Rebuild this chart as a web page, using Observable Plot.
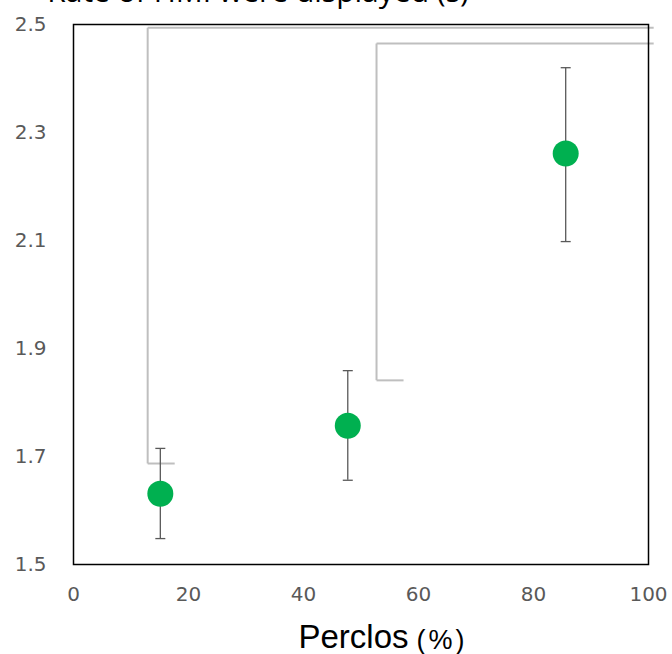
<!DOCTYPE html>
<html>
<head>
<meta charset="utf-8">
<script src="https://cdn.jsdelivr.net/npm/d3@7"></script>
<script src="https://cdn.jsdelivr.net/npm/@observablehq/plot@0.6"></script>
<style>
  html, body { margin: 0; padding: 0; background: #fff; overflow: hidden; }
  #chart svg { display: block; overflow: hidden; }
</style>
</head>
<body>
<div id="chart"></div>
<script>
// Data
const perclos = [15.1, 47.7, 85.6];
const meanValue = [1.631, 1.757, 2.261];
const errLow = [1.548, 1.656, 2.098];
const errHigh = [1.715, 1.859, 2.420];

const xTicks = [0, 20, 40, 60, 80, 100];
const yTicks = [1.5, 1.7, 1.9, 2.1, 2.3, 2.5];

// Significance brackets
const bracketX = [12.9, 52.7];
const bracketFootX = [17.6, 57.4];
const bracketTopEndX = [100.9, 100.9];
const bracketTopY = [2.494, 2.465];
const bracketFootY = [1.687, 1.841];

const titleText = "Rate of HMI were displayed (s)";
const xLabelMain = "Perclos";
const xLabelUnit = "(%)";

const points = perclos.map((x, i) => ({x, y: meanValue[i], lo: errLow[i], hi: errHigh[i]}));
const brackets = bracketX.map((x, i) => ({x, xf: bracketFootX[i], xt: bracketTopEndX[i], yt: bracketTopY[i], yf: bracketFootY[i]}));

const capSymbol = {
  draw(context, size) {
    const r = 5;
    context.moveTo(-r, 0);
    context.lineTo(r, 0);
  }
};

const chart = Plot.plot({
  width: 672,
  height: 654,
  marginLeft: 73,
  marginRight: 24,
  marginTop: 24,
  marginBottom: 90,
  style: {background: "#fff", overflow: "hidden"},
  x: {domain: [0, 100]},
  y: {domain: [1.5, 2.5]},
  marks: [
    // brackets
    Plot.link(brackets, {x1: "x", x2: "x", y1: "yt", y2: "yf", stroke: "#bfbfbf", strokeWidth: 2, clip: false}),
    Plot.link(brackets, {x1: "x", x2: "xf", y1: "yf", y2: "yf", stroke: "#bfbfbf", strokeWidth: 2, clip: false}),
    Plot.link(brackets, {x1: "x", x2: "xt", y1: "yt", y2: "yt", stroke: "#bfbfbf", strokeWidth: 2, clip: false}),
    // frame
    Plot.frame({stroke: "#000", strokeWidth: 1.5}),
    // error bars
    Plot.ruleX(points, {x: "x", y1: "lo", y2: "hi", stroke: "#595959", strokeWidth: 1.3}),
    Plot.dot(points, {x: "x", y: "lo", symbol: capSymbol, r: 5, stroke: "#595959", strokeWidth: 1.3, fill: "none"}),
    Plot.dot(points, {x: "x", y: "hi", symbol: capSymbol, r: 5, stroke: "#595959", strokeWidth: 1.3, fill: "none"}),
    // points
    Plot.dot(points, {x: "x", y: "y", r: 13, fill: "#00b050", stroke: "none"}),
    // axes
    Plot.axisX({ticks: xTicks, tickSize: 0, tickPadding: 22, label: null, fontSize: 20, fontFamily: "DejaVu Sans", fill: "#595959", tickFormat: d3.format("d")}),
    Plot.axisY({ticks: yTicks, tickSize: 0, tickPadding: 27, label: null, fontSize: 20, fontFamily: "DejaVu Sans", fill: "#595959", tickFormat: d3.format(".1f")}),
    // x label
    Plot.text([xLabelMain], {frameAnchor: "bottom-left", text: d => d, dx: 225, dy: 83, textAnchor: "start", fontSize: 33, fontFamily: "Liberation Sans", fill: "#000", lineAnchor: "bottom"}),
    Plot.text([xLabelUnit], {frameAnchor: "bottom-left", text: d => d, dx: 343, dy: 84, textAnchor: "start", fontSize: 27, fontFamily: "Liberation Sans", fill: "#000", lineAnchor: "bottom"}),
    // clipped title
    Plot.text([titleText], {frameAnchor: "top", text: d => d, dx: -103, dy: -23, fontSize: 30, fontFamily: "Open Sans", fill: "#000", lineAnchor: "bottom"})
  ]
});

// slightly widen the spacing of the unit label like the reference
chart.querySelectorAll("text").forEach(t => {
  if (t.textContent === xLabelUnit) t.setAttribute("letter-spacing", "3");
});

document.getElementById("chart").appendChild(chart);
</script>
</body>
</html>
